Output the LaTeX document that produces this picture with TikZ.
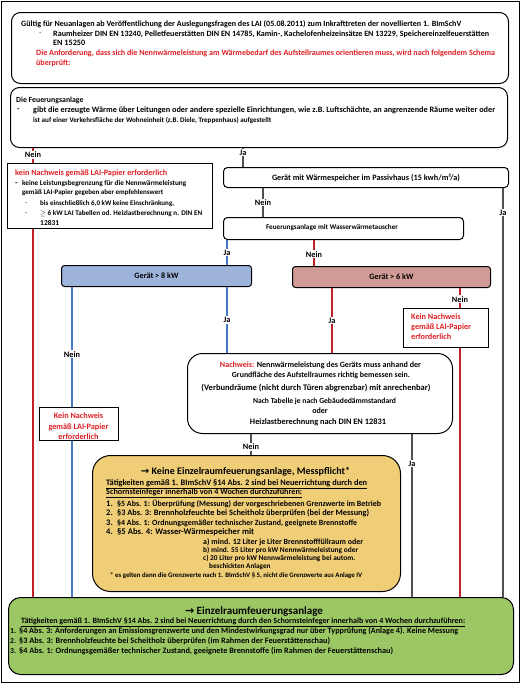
\documentclass[tikz,border=0pt]{standalone}
\usepackage{graphicx}
\usepackage{fontspec}
\setmainfont{Carlito}
\newfontfamily\dejavu{DejaVu Sans}
\newcommand\myfs[1]{\fontsize{#1}{#1}\selectfont}
\newcommand\fitw[2]{\resizebox{#1pt}{!}{#2}}
\definecolor{redline}{RGB}{192,32,40}
\definecolor{redtext}{RGB}{222,30,36}
\definecolor{blueline}{RGB}{70,120,200}
\definecolor{grayline}{RGB}{80,80,80}
\definecolor{bluefill}{RGB}{157,179,217}
\definecolor{rosefill}{RGB}{208,155,150}
\definecolor{yelfill}{RGB}{240,206,120}
\definecolor{grnfill}{RGB}{155,200,100}
\begin{document}
\begin{tikzpicture}[x=1pt,y=-1pt,
  every node/.style={inner sep=0pt, font=\bfseries\myfs{8}},
  boxnode/.style={draw=black, line width=1pt, anchor=north west, inner sep=0pt},
  tl/.style={anchor=west},
  tc/.style={anchor=center},
  lbl/.style={fill=white, inner sep=1pt, font=\bfseries\myfs{8.3}, text=black},
  rl/.style={draw=redline, line width=1.4pt},
  bl/.style={draw=blueline, line width=1.4pt},
  gl/.style={draw=grayline, line width=1.4pt},
  rt/.style={text=redtext}
]
\useasboundingbox (0,0) rectangle (527,683);
\draw[line width=1pt] (1,1) rectangle (519,682);

% boxes
\node[boxnode, rounded corners=9pt, minimum width=497pt, minimum height=71pt] (b1) at (11,12) {};
\node[boxnode, rounded corners=9pt, minimum width=497pt, minimum height=60pt] (b2) at (10,87) {};
\node[boxnode, minimum width=205pt, minimum height=65pt] (k1) at (7,163) {};
\node[boxnode, rounded corners=4pt, minimum width=285pt, minimum height=20pt] (pass) at (223,167) {};
\node[boxnode, rounded corners=4pt, minimum width=240pt, minimum height=22pt] (wass) at (223,217) {};
\node[boxnode, rounded corners=3pt, fill=bluefill, minimum width=190pt, minimum height=21pt] (g8) at (61,265) {};
\node[boxnode, rounded corners=3pt, fill=rosefill, minimum width=198pt, minimum height=21pt] (g6) at (292,266) {};
\node[boxnode, minimum width=85pt, minimum height=39pt] (k3) at (403,308) {};
\node[boxnode, rounded corners=15pt, minimum width=265pt, minimum height=80pt] (nach) at (187,353) {};
\node[boxnode, minimum width=79pt, minimum height=33pt] (k2) at (39,407) {};
\node[boxnode, rounded corners=18pt, fill=yelfill, minimum width=308pt, minimum height=136pt] (yel) at (92,455) {};
\node[boxnode, rounded corners=12pt, fill=grnfill, minimum width=505pt, minimum height=77pt] (grn) at (8,597) {};

% column coordinates
\coordinate (cA) at (33,0);
\coordinate (cB) at (243,0);
\coordinate (cC) at (263,0);
\coordinate (cD) at (503,0);
\coordinate (cE) at (227,0);
\coordinate (cF) at (314,0);
\coordinate (cG) at (72,0);
\coordinate (cH) at (332,0);
\coordinate (cI) at (460,0);
\coordinate (cJ) at (251,0);
\coordinate (cK) at (412,0);

% connectors
\draw[rl] (b2.south -| cA) -- node[lbl, pos=0.45]{Nein} (k1.north -| cA);
\draw[rl] (k1.south -| cA) -- (grn.north -| cA);
\draw[gl] (b2.south -| cB) -- node[lbl, pos=0.25]{Ja} (pass.north -| cB);
\draw[gl] (pass.south -| cC) -- node[lbl, pos=0.5]{Nein} (wass.north -| cC);
\draw[gl] (pass.south -| cD) -- node[lbl, pos=0.06]{Ja} (grn.north -| cD);
\draw[bl] (wass.south -| cE) -- node[lbl, pos=0.5]{Ja} (g8.north -| cE);
\draw[rl] (wass.south -| cF) -- node[lbl, pos=0.55]{Nein} (g6.north -| cF);
\draw[bl] (g8.south -| cG) -- node[lbl, pos=0.56]{Nein} (k2.north -| cG);
\draw[bl] (k2.south -| cG) -- (grn.north -| cG);
\draw[bl] (g8.south -| cE) -- node[lbl, pos=0.5]{Ja} (nach.north -| cE);
\draw[rl] (g6.south -| cH) -- node[lbl, pos=0.5]{Ja} (nach.north -| cH);
\draw[rl] (g6.south -| cI) -- node[lbl, pos=0.57]{Nein} (k3.north -| cI);
\draw[rl] (k3.south -| cI) -- (grn.north -| cI);
\draw[gl] (nach.south -| cJ) -- node[lbl, pos=0.6]{Nein} (yel.north -| cJ);
\draw[gl] (nach.south -| cK) -- node[lbl, pos=0.18]{Ja} (grn.north -| cK);

% box 1 text
\node[tl] (t11) at (21,24) {\fitw{440}{Gültig für Neuanlagen ab Veröffentlichung der Auslegungsfragen des LAI (05.08.2011) zum Inkrafttreten der novellierten 1. BImSchV}};
\node[tl, text=gray] (t12d) at (39,34) {-};
\node[tl] (t12) at (53,34) {\fitw{436}{Raumheizer DIN EN 13240, Pelletfeuerstätten DIN EN 14785, Kamin-, Kachelofenheizeinsätze EN 13229, Speichereinzelfeuerstätten}};
\node[tl, font=\bfseries\myfs{8.2}] (t13) at (53,43) {EN 15250};
\node[tl, rt] (t14) at (36,53) {\fitw{459}{Die Anforderung, dass sich die Nennwärmeleistung am Wärmebedarf des Aufstellraumes orientieren muss, wird nach folgendem Schema}};
\node[tl, rt, font=\bfseries\myfs{8}] (t15) at (36,63) {überprüft:};

% box 2 text
\node[tl, font=\bfseries\myfs{7.8}] (t21) at (16,100) {Die Feuerungsanlage};
\node[tl] (t22d) at (17,110) {-};
\node[tl] (t22) at (33,110) {\fitw{462}{gibt die erzeugte Wärme über Leitungen oder andere spezielle Einrichtungen, wie z.B. Luftschächte, an angrenzende Räume weiter oder}};
\node[tl] (t23) at (33,120) {\fitw{238}{ist auf einer Verkehrsfläche der Wohneinheit (z.B. Diele, Treppenhaus) aufgestellt}};

% k1 text
\node[tl, rt] (k1a) at (15,173) {\fitw{152}{kein Nachweis gemäß LAI-Papier erforderlich}};
\node[tl] (k1bd) at (15,184) {-};
\node[tl] (k1b) at (22,184) {\fitw{164}{keine Leistungsbegrenzung für die Nennwärmeleistung}};
\node[tl] (k1c) at (22,193) {\fitw{141}{gemäß LAI-Papier gegeben aber empfehlenswert}};
\node[tl, text=gray] (k1dd) at (25,204) {-};
\node[tl] (k1d) at (40,204) {\fitw{134}{bis  einschließlich 6,0  kW keine Einschränkung,}};
\node[tl, text=gray] (k1ed) at (25,214) {-};
\node[tl] (k1e) at (40,214) {\fitw{162}{$\geq$ 6 kW LAI Tabellen od.  Heizlastberechnung n. DIN EN}};
\node[tl, font=\bfseries\myfs{7.5}] (k1f) at (40,223) {12831};

% box labels
\node[tc] (passt) at (366,178) {\fitw{188}{Gerät mit Wärmespeicher im Passivhaus (15 kwh/m²/a)}};
\node[tc] (wasst) at (332,228) {\fitw{132}{Feuerungsanlage mit Wasserwärmetauscher}};
\node[tc, font=\bfseries\myfs{8.2}] (g8t) at (g8.center) {Gerät > 8 kW};
\node[tc, font=\bfseries\myfs{8.2}] (g6t) at (g6.center) {Gerät > 6 kW};

% k3 text
\node[tl, rt, font=\bfseries\myfs{8.2}] (k3a) at (411,317) {Kein Nachweis};
\node[tl, rt, font=\bfseries\myfs{8.2}] (k3b) at (411,327) {gemäß LAI-Papier};
\node[tl, rt, font=\bfseries\myfs{8.2}] (k3c) at (411,337) {erforderlich};

% k2 text
\node[tc, rt, font=\bfseries\myfs{8.2}] (k2a) at (78.5,416) {Kein Nachweis};
\node[tc, rt, font=\bfseries\myfs{8.2}] (k2b) at (78.5,427) {gemäß LAI-Papier};
\node[tc, rt, font=\bfseries\myfs{8.2}] (k2c) at (78.5,437) {erforderlich};

% Nachweis text
\node[tc] (n1) at (320.5,365) {\fitw{201}{\textcolor{redtext}{Nachweis:} Nennwärmeleistung des Geräts muss anhand der}};
\node[tc] (n2) at (321,375) {\fitw{178}{Grundfläche des Aufstellraumes richtig bemessen sein.}};
\node[tc] (n3) at (316,388) {\fitw{229}{(Verbundräume (nicht durch Türen abgrenzbar) mit anrechenbar)}};
\node[tc] (n4) at (324.5,401) {\fitw{143}{Nach Tabelle je nach Gebäudedämmstandard}};
\node[tc, font=\bfseries\myfs{8}] (n5) at (320,411) {oder};
\node[tc] (n6) at (318,422) {\fitw{136}{Heizlastberechnung nach DIN EN 12831}};

% yellow text
\node[tc] (y0) at (245.5,472) {\fitw{209}{{\dejavu →} Keine Einzelraumfeuerungsanlage, Messpflicht*}};
\node[tl] (y1) at (106,484) {\fitw{261}{\underline{Tätigkeiten gemäß 1. BImSchV §14 Abs. 2 sind bei Neuerrichtung durch den}}};
\node[tl] (y2) at (106,493) {\fitw{196}{\underline{Schornsteinfeger innerhalb von 4 Wochen durchzuführen:}}};
\node[tl, font=\bfseries\myfs{8.5}] (y3n) at (106,504) {1.};
\node[tl] (y3) at (117,504) {\fitw{264}{§5 Abs. 1: Überprüfung (Messung) der vorgeschriebenen Grenzwerte im Betrieb}};
\node[tl, font=\bfseries\myfs{8.5}] (y4n) at (106,513) {2.};
\node[tl] (y4) at (117,513) {\fitw{252}{§3 Abs. 3: Brennholzfeuchte bei Scheitholz überprüfen (bei der Messung)}};
\node[tl, font=\bfseries\myfs{8.5}] (y5n) at (106,523) {3.};
\node[tl] (y5) at (117,523) {\fitw{240}{§4 Abs. 1: Ordnungsgemäßer technischer Zustand, geeignete Brennstoffe}};
\node[tl, font=\bfseries\myfs{8.5}] (y6n) at (106,532) {4.};
\node[tl] (y6) at (117,532) {\fitw{137}{§5 Abs. 4: Wasser-Wärmespeicher mit}};
\node[tl] (y7) at (203,542) {\fitw{160}{a) mind. 12 Liter je Liter Brennstofffüllraum oder}};
\node[tl] (y8) at (203,550) {\fitw{155}{b) mind. 55 Liter  pro kW Nennwärmeleistung oder}};
\node[tl] (y9) at (203,558) {\fitw{152}{c) 20 Liter pro kW Nennwärmeleistung bei autom.}};
\node[tl, font=\bfseries\myfs{7.2}] (y10) at (209,567) {beschickten Anlagen};
\node[tl] (y11) at (110,576) {\fitw{252}{* es gelten dann die Grenzwerte nach 1. BImSchV § 5, nicht die Grenzwerte aus Anlage IV}};

% green text
\node[tc] (gr0) at (254,612) {\fitw{138}{{\dejavu →} Einzelraumfeuerungsanlage}};
\node[tl] (gr1) at (21,622) {\fitw{444}{\underline{Tätigkeiten gemäß 1. BImSchV §14 Abs. 2 sind bei Neuerrichtung durch den Schornsteinfeger innerhalb von 4 Wochen durchzuführen:}}};
\node[tl, font=\bfseries\myfs{7.6}] (gr2n) at (10,631) {1.};
\node[tl] (gr2) at (19,631) {\fitw{439}{§4 Abs. 3: Anforderungen an Emissionsgrenzwerte und den Mindestwirkungsgrad nur über Typprüfung (Anlage 4). Keine Messung}};
\node[tl, font=\bfseries\myfs{7.6}] (gr3n) at (10,641) {2.};
\node[tl] (gr3) at (19,641) {\fitw{311}{§3 Abs. 3: Brennholzfeuchte bei Scheitholz überprüfen (im Rahmen der Feuerstättenschau)}};
\node[tl, font=\bfseries\myfs{7.6}] (gr4n) at (10,651) {3.};
\node[tl] (gr4) at (19,651) {\fitw{374}{§4 Abs. 1: Ordnungsgemäßer technischer Zustand, geeignete Brennstoffe (im Rahmen der Feuerstättenschau)}};
\end{tikzpicture}
\end{document}
